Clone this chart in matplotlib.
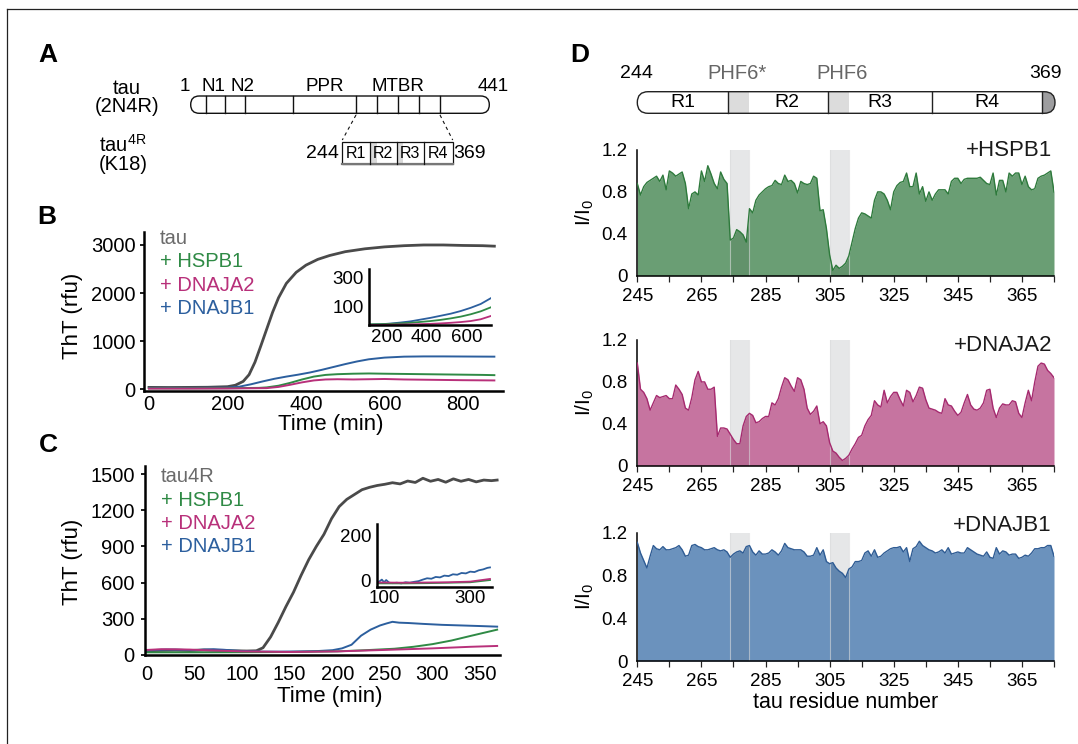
import numpy as np
import matplotlib
matplotlib.use("Agg")
import matplotlib.pyplot as plt
from matplotlib.patches import FancyBboxPatch, Rectangle

plt.rcParams['font.family'] = ['Liberation Sans', 'DejaVu Sans']
plt.rcParams['mathtext.fontset'] = 'custom'
plt.rcParams['mathtext.rm'] = 'Liberation Sans'
plt.rcParams['mathtext.default'] = 'regular'

# ---------------- data ----------------
# Panel B (full-length tau)
tauB_t = [0, 50, 100, 150, 200, 220, 240, 255, 270, 285, 300, 315, 330, 350, 375, 400, 430, 460, 500, 550, 600, 650, 700, 750, 800, 850, 880]
tauB_y = [35, 33, 35, 38, 50, 80, 160, 300, 560, 900, 1250, 1600, 1900, 2200, 2430, 2580, 2700, 2780, 2860, 2920, 2960, 2985, 3000, 3000, 2990, 2985, 2975]
hspb1B_t = [0, 100, 200, 280, 300, 330, 360, 390, 420, 450, 480, 520, 560, 600, 650, 700, 750, 800, 850, 880]
hspb1B_y = [15, 15, 18, 25, 35, 70, 130, 200, 260, 295, 310, 320, 325, 320, 315, 310, 305, 300, 295, 290]
dnaja2B_t = [0, 100, 200, 300, 330, 360, 390, 420, 450, 480, 520, 560, 600, 650, 700, 750, 800, 850, 880]
dnaja2B_y = [10, 10, 12, 20, 45, 90, 140, 180, 200, 205, 200, 205, 210, 200, 195, 190, 185, 182, 180]
dnajb1B_t = [0, 100, 200, 230, 260, 290, 320, 350, 380, 410, 440, 470, 500, 530, 560, 600, 650, 700, 750, 800, 850, 880]
dnajb1B_y = [25, 25, 30, 50, 100, 160, 215, 260, 300, 345, 400, 460, 520, 575, 620, 655, 675, 680, 680, 678, 676, 675]
# Panel B inset
insB_t = [120, 170, 220, 270, 320, 370, 420, 470, 520, 570, 620, 670, 720]
insB_dnajb1 = [-22, -20, -15, -8, 0, 12, 24, 38, 52, 70, 92, 118, 157]
insB_hspb1 = [-20, -19, -17, -14, -10, -4, 2, 10, 20, 32, 48, 68, 95]
insB_dnaja2 = [-24, -24, -23, -22, -21, -19, -17, -14, -10, -5, 2, 14, 36]

# Panel C (tau4R)
tauC_t = [0, 15, 30, 45, 60, 75, 90, 105, 115, 122, 130, 138, 146, 154, 162, 170, 178, 186, 194, 202, 210, 218, 226, 234, 242, 250, 258, 266, 274, 282, 290, 298, 306, 314, 322, 330, 338, 346, 354, 362, 368]
tauC_y = [35, 38, 40, 37, 42, 38, 35, 33, 35, 60, 150, 270, 400, 520, 660, 790, 900, 1000, 1130, 1230, 1290, 1330, 1370, 1390, 1405, 1415, 1428, 1418, 1442, 1430, 1465, 1440, 1455, 1432, 1460, 1440, 1455, 1435, 1450, 1445, 1450]
dnajb1C_t = [0, 10, 20, 30, 40, 50, 60, 70, 80, 90, 100, 120, 140, 160, 180, 195, 205, 215, 225, 235, 245, 252, 258, 265, 275, 290, 310, 330, 350, 368]
dnajb1C_y = [35, 42, 45, 44, 42, 40, 45, 48, 44, 38, 33, 28, 28, 30, 33, 40, 55, 85, 160, 210, 245, 262, 275, 268, 265, 258, 250, 245, 240, 235]
hspb1C_t = [0, 50, 100, 150, 200, 230, 260, 280, 300, 320, 340, 368]
hspb1C_y = [22, 22, 23, 25, 30, 40, 52, 68, 90, 120, 158, 210]
dnaja2C_t = [0, 15, 30, 45, 60, 80, 100, 150, 200, 250, 300, 340, 368]
dnaja2C_y = [42, 48, 47, 45, 40, 35, 30, 25, 30, 42, 55, 68, 75]
# Panel C inset
insC_t = [88, 95, 100, 105, 112, 120, 130, 140, 150, 160, 170, 180, 190, 200, 210, 220, 230, 240, 250, 260, 270, 280, 290, 300, 310, 320, 330, 340, 346]
insC_dnajb1 = [-8, 2, -10, 0, -12, -14, -12, -15, -10, -12, -8, -5, 2, 8, 6, 14, 12, 20, 18, 26, 24, 32, 30, 38, 36, 44, 48, 55, 57]
insC_t2 = [88, 150, 200, 250, 300, 346]
insC_hspb1 = [-15, -15, -14, -12, -10, 0]
insC_dnaja2 = [-11, -12, -11, -10, -7, 5]

# Panel D (I/I0 per residue)
residues = np.arange(245, 376)
d_hspb1 = [0.88, 0.77, 0.85, 0.89, 0.91, 0.93, 0.95, 0.90, 0.96, 0.82,
           1.00, 0.98, 0.95, 0.97, 0.99, 0.88, 0.64, 0.78, 0.80, 0.77,
           1.00, 0.90, 1.05, 0.97, 0.88, 0.83, 0.99, 0.92, 0.88, 0.34,
           0.36, 0.44, 0.42, 0.39, 0.32, 0.64, 0.60, 0.72, 0.77, 0.80,
           0.83, 0.85, 0.86, 0.91, 0.88, 0.87, 0.96, 0.90, 0.91, 0.88,
           0.79, 0.90, 0.88, 0.87, 0.88, 0.95, 0.93, 0.62, 0.63, 0.45,
           0.20, 0.05, 0.10, 0.07, 0.09, 0.12, 0.19, 0.32, 0.45, 0.55,
           0.60, 0.59, 0.57, 0.55, 0.72, 0.80, 0.80, 0.78, 0.72, 0.63,
           0.80, 0.86, 0.89, 0.90, 0.98, 0.85, 0.85, 0.98, 0.78, 0.85,
           0.71, 0.80, 0.72, 0.78, 0.82, 0.82, 0.82, 0.78, 0.90, 0.93,
           0.93, 0.88, 0.92, 0.93, 0.93, 0.93, 0.93, 0.94, 0.91, 0.88,
           0.87, 0.98, 0.77, 0.91, 0.91, 0.80, 0.98, 0.95, 0.98, 0.98,
           0.87, 0.95, 0.85, 0.82, 0.83, 0.93, 0.95, 0.96, 0.98, 1.00,
           0.80]
d_dnaja2 = [0.98, 0.73, 0.70, 0.64, 0.53, 0.60, 0.67, 0.65, 0.66, 0.67,
            0.64, 0.64, 0.77, 0.73, 0.68, 0.55, 0.53, 0.65, 0.82, 0.90,
            0.80, 0.80, 0.73, 0.73, 0.75, 0.28, 0.36, 0.36, 0.35, 0.30,
            0.25, 0.21, 0.21, 0.38, 0.47, 0.50, 0.48, 0.41, 0.42, 0.45,
            0.47, 0.47, 0.60, 0.58, 0.64, 0.75, 0.84, 0.82, 0.76, 0.71,
            0.84, 0.82, 0.73, 0.55, 0.49, 0.52, 0.57, 0.40, 0.42, 0.38,
            0.22, 0.14, 0.12, 0.08, 0.05, 0.07, 0.10, 0.16, 0.21, 0.27,
            0.29, 0.38, 0.44, 0.48, 0.62, 0.58, 0.56, 0.72, 0.60, 0.66,
            0.70, 0.70, 0.63, 0.57, 0.72, 0.70, 0.61, 0.67, 0.75, 0.74,
            0.63, 0.55, 0.54, 0.53, 0.51, 0.50, 0.64, 0.58, 0.57, 0.52,
            0.48, 0.51, 0.60, 0.68, 0.58, 0.54, 0.53, 0.55, 0.60, 0.72,
            0.73, 0.55, 0.46, 0.55, 0.59, 0.58, 0.58, 0.62, 0.61, 0.50,
            0.46, 0.60, 0.72, 0.62, 0.80, 0.95, 0.98, 0.97, 0.91, 0.88,
            0.84]
d_dnajb1 = [1.11, 1.01, 0.94, 0.87, 0.98, 1.08, 1.05, 1.04, 1.07, 1.04,
            1.04, 1.05, 1.06, 1.08, 1.04, 0.98, 0.99, 1.08, 1.09, 1.07,
            1.06, 1.04, 1.04, 1.05, 1.06, 1.04, 1.03, 1.04, 1.02, 0.97,
            1.00, 1.02, 1.03, 1.01, 1.07, 1.08, 1.02, 0.99, 1.03, 1.00,
            1.00, 1.01, 1.04, 1.02, 0.99, 1.03, 1.10, 1.06, 1.05, 1.04,
            1.04, 1.04, 1.02, 0.98, 0.98, 0.99, 1.06, 0.99, 1.04, 0.93,
            0.91, 0.92, 0.87, 0.84, 0.82, 0.78, 0.86, 0.88, 0.93, 0.93,
            0.94, 1.01, 1.03, 0.98, 1.04, 0.97, 0.98, 1.01, 1.03, 1.05,
            1.06, 1.06, 1.07, 1.02, 1.06, 0.93, 1.05, 1.07, 1.12, 1.08,
            1.06, 1.04, 1.03, 1.01, 1.02, 1.04, 1.01, 1.06, 1.00, 1.01,
            1.02, 1.01, 1.01, 1.06, 1.04, 1.02, 1.00, 0.99, 0.98, 1.02,
            0.97, 0.96, 1.06, 1.00, 1.03, 1.02, 0.99, 1.00, 1.00, 0.96,
            0.97, 0.99, 0.98, 1.01, 1.05, 1.05, 1.06, 1.06, 1.08, 1.08,
            0.98]
phf_regions = [(274, 280), (305, 311)]
d_names = ['+HSPB1', '+DNAJA2', '+DNAJB1']

# ---------------- style ----------------
W, H = 1078, 744
C_TAU = '#4a4a4a'
C_TAU_TXT = '#6a6a6a'
C_HSPB1 = '#2f8a45'
C_DNAJA2 = '#b8307a'
C_DNAJB1 = '#2c5f9e'
FILLS = ['#6a9e74', '#c674a0', '#6b92bd']
LINES = ['#2e7a3c', '#a52a6f', '#2f5c94']

fig = plt.figure(figsize=(W / 100, H / 100), dpi=100)


def axpos(l, t, r, b):
    return [l / W, 1 - b / H, (r - l) / W, (b - t) / H]


def style_axes(ax, lw=1.8, fs=14.5, xlen=0, xpad=3.6, ylen=3, ypad=3):
    for s in ['top', 'right']:
        ax.spines[s].set_visible(False)
    for s in ['left', 'bottom']:
        ax.spines[s].set_linewidth(lw)
    ax.tick_params(labelsize=fs, color='#222', width=lw * 0.8)
    ax.tick_params(axis='x', length=xlen, pad=xpad)
    ax.tick_params(axis='y', length=ylen, pad=ypad)
    ax.set_facecolor('none')


# ---------------- Panel B ----------------
axB = fig.add_axes(axpos(144, 232, 503, 391))
axB.plot(tauB_t, tauB_y, color=C_TAU, lw=2.0)
axB.plot(dnajb1B_t, dnajb1B_y, color=C_DNAJB1, lw=1.4)
axB.plot(hspb1B_t, hspb1B_y, color=C_HSPB1, lw=1.4)
axB.plot(dnaja2B_t, dnaja2B_y, color=C_DNAJA2, lw=1.4)
axB.set_xlim(-12.7, 902)
axB.set_ylim(-40, 3270)
axB.set_xticks([0, 200, 400, 600, 800])
axB.set_yticks([0, 1000, 2000, 3000])
style_axes(axB, xpad=3.2)
axB.set_ylabel('ThT (rfu)', fontsize=16, va='center')
axB.yaxis.set_label_coords(-0.20, 0.47)
axB.set_xlabel('Time (min)', fontsize=16, va='center')
axB.xaxis.set_label_coords(0.52, -0.21)

axBi = fig.add_axes(axpos(369.3, 269.3, 490.7, 325.3))
axBi.plot(insB_t, insB_dnajb1, color=C_DNAJB1, lw=1.3)
axBi.plot(insB_t, insB_hspb1, color=C_HSPB1, lw=1.3)
axBi.plot(insB_t, insB_dnaja2, color=C_DNAJA2, lw=1.3)
axBi.set_xlim(113, 720)
axBi.set_ylim(-27, 354)
axBi.set_xticks([200, 400, 600])
axBi.set_yticks([100, 300])
style_axes(axBi, fs=13.5, xlen=0, xpad=2.5, ylen=0, ypad=4)

# ---------------- Panel C ----------------
axC = fig.add_axes(axpos(145, 465.7, 500, 655))
axC.plot(tauC_t, tauC_y, color=C_TAU, lw=2.0)
axC.plot(dnajb1C_t, dnajb1C_y, color=C_DNAJB1, lw=1.4)
axC.plot(hspb1C_t, hspb1C_y, color=C_HSPB1, lw=1.4)
axC.plot(dnaja2C_t, dnaja2C_y, color=C_DNAJA2, lw=1.4)
axC.set_xlim(-2, 371)
axC.set_ylim(0, 1569)
axC.set_xticks([0, 50, 100, 150, 200, 250, 300, 350])
axC.set_yticks([0, 300, 600, 900, 1200, 1500])
style_axes(axC, xpad=7.5, ypad=4.5)
axC.set_ylabel('ThT (rfu)', fontsize=16, va='center')
axC.yaxis.set_label_coords(-0.205, 0.49)
axC.set_xlabel('Time (min)', fontsize=16, va='center')
axC.xaxis.set_label_coords(0.52, -0.22)

axCi = fig.add_axes(axpos(376.7, 524, 491.7, 586.7))
axCi.plot(insC_t, insC_dnajb1, color=C_DNAJB1, lw=1.3)
axCi.plot(insC_t2, insC_hspb1, color=C_HSPB1, lw=1.3)
axCi.plot(insC_t2, insC_dnaja2, color=C_DNAJA2, lw=1.3)
axCi.set_xlim(83, 350)
axCi.set_ylim(-30, 253)
axCi.set_xticks([100, 300])
axCi.set_yticks([0, 200])
style_axes(axCi, fs=13.5, xlen=0, xpad=2.5, ylen=0, ypad=4)

# ---------------- Panel D ----------------
d_series = [d_hspb1, d_dnaja2, d_dnajb1]
d_boxes = [(637.3, 150, 1054, 275.7), (637.3, 340, 1054, 465.7), (637.3, 532.7, 1054, 661)]
d_name_y = [1.0, 0.96, 1.06]
d_ticks = np.arange(245, 376, 10)
d_labels = [str(t) if (t - 245) % 20 == 0 else '' for t in d_ticks]
for i, (vals, box) in enumerate(zip(d_series, d_boxes)):
    ax = fig.add_axes(axpos(*box))
    vals = np.array(vals)
    for (a, b) in phf_regions:
        ax.axvspan(a, b, color='#e6e7e8', lw=0, zorder=0)
    ax.fill_between(residues, 0, vals, color=FILLS[i], lw=0, zorder=1)
    for (a, b) in phf_regions:
        m = (residues >= a) & (residues <= b)
        ax.fill_between(residues, 0, vals, where=m, color='k', alpha=0.07, lw=0, zorder=2)
        ax.axvline(a, color='#d9dadb', lw=0.8, alpha=0.6, zorder=2)
        ax.axvline(b, color='#d9dadb', lw=0.8, alpha=0.6, zorder=2)
    ax.plot(residues, vals, color=LINES[i], lw=1.0, zorder=3)
    ax.set_xlim(245, 375)
    ax.set_ylim(0, 1.2)
    ax.set_xticks(d_ticks)
    ax.set_xticklabels(d_labels)
    ax.set_yticks([0, 0.4, 0.8, 1.2])
    ax.set_yticklabels(['0', '0.4', '0.8', '1.2'])
    style_axes(ax, lw=1.1, fs=13.5, xlen=4, xpad=4.5, ylen=0, ypad=7)
    ax.set_ylabel('I/I$_0$', fontsize=15, va='center')
    ax.yaxis.set_label_coords(-0.125, 0.5)
    ax.text(0.995, d_name_y[i], d_names[i], transform=ax.transAxes,
            ha='right', va='center', fontsize=16, color='#1a1a1a', zorder=5)
    if i == 2:
        ax.set_xlabel('tau residue number', fontsize=15.5, va='center')
        ax.xaxis.set_label_coords(0.5, -0.32)

# ---------------- overlay (schematics, labels) ----------------
ov = fig.add_axes([0, 0, 1, 1])
ov.set_xlim(0, W)
ov.set_ylim(H, 0)
ov.axis('off')
ov.patch.set_visible(False)

# frame lines
ov.plot([7, W], [9.3, 9.3], color='#222', lw=0.9)
ov.plot([7, 7], [9.3, H], color='#222', lw=0.9)

for lab, (x, y) in zip('ABCD', [(48, 55), (46.7, 216.7), (48.3, 445), (580, 55)]):
    ov.text(x, y, lab, fontsize=19, fontweight='bold', ha='center', va='center')

# Panel A schematic
ov.text(126.7, 88, 'tau', fontsize=14.5, ha='center', va='center')
ov.text(126.7, 106, '(2N4R)', fontsize=14.5, ha='center', va='center')
ov.text(123, 145, 'tau$^{4R}$', fontsize=14.5, ha='center', va='center')
ov.text(123, 164, '(K18)', fontsize=14.5, ha='center', va='center')
ov.add_patch(FancyBboxPatch((190.7, 96), 298.6, 17.3, boxstyle='round,pad=0,rounding_size=8.6',
                            fc='white', ec='#111', lw=1.0))
for x in [206, 225, 245, 293.3, 356, 377.3, 398, 418.7, 440]:
    ov.plot([x, x], [96, 113.3], color='#111', lw=1.0)
for txt, x in [('1', 184.5), ('N1', 213.5), ('N2', 242), ('PPR', 325), ('MTBR', 398), ('441', 493)]:
    ov.text(x, 86.7, txt, fontsize=13.5, ha='center', va='center')
ov.add_patch(Rectangle((370, 141.7), 6.7, 22.3, fc='#d9d9d9', lw=0))
ov.add_patch(Rectangle((396.7, 141.7), 6, 22.3, fc='#d9d9d9', lw=0))
ov.add_patch(Rectangle((342.3, 141.7), 110.4, 22.3, fc='none', ec='#111', lw=0.9))
ov.plot([342.3, 452.7], [164, 164], color='#777', lw=1.6)
for x in [370, 396.7, 424]:
    ov.plot([x, x], [141.7, 164], color='#111', lw=0.9)
for txt, x in [('R1', 356), ('R2', 383.3), ('R3', 410.3), ('R4', 438.3)]:
    ov.text(x, 153, txt, fontsize=11.5, ha='center', va='center')
ov.text(322, 153, '244', fontsize=14, ha='center', va='center')
ov.text(469, 153, '369', fontsize=14, ha='center', va='center')
ov.plot([356, 342.3], [115, 140], color='#111', lw=0.8, ls=(0, (3, 3)))
ov.plot([440, 452.7], [115, 140], color='#111', lw=0.8, ls=(0, (3, 3)))

# Panel D schematic
bx0, bx1, by0, by1 = 637.3, 1055, 91.7, 113.3
ov.add_patch(FancyBboxPatch((bx0, by0), bx1 - bx0, by1 - by0, boxstyle='round,pad=0,rounding_size=10.8',
                            fc='white', ec='none', lw=0))
ov.add_patch(FancyBboxPatch((1025, by0), bx1 - 1025, by1 - by0, boxstyle='round,pad=0,rounding_size=10.8',
                            fc='#9d9d9f', ec='none', lw=0))
ov.add_patch(Rectangle((1020, by0), 21.7, by1 - by0, fc='white', lw=0))
ov.add_patch(Rectangle((727.7, by0), 21.3, by1 - by0, fc='#dcdcdc', lw=0))
ov.add_patch(Rectangle((828.3, by0), 20.7, by1 - by0, fc='#dcdcdc', lw=0))
ov.add_patch(FancyBboxPatch((bx0, by0), bx1 - bx0, by1 - by0, boxstyle='round,pad=0,rounding_size=10.8',
                            fc='none', ec='#222', lw=1.0))
for x in [727.7, 828.3, 931.7, 1041.7]:
    ov.plot([x, x], [by0, by1], color='#222', lw=1.0)
for txt, x in [('R1', 683.3), ('R2', 786.7), ('R3', 880), ('R4', 986.7)]:
    ov.text(x, 102.5, txt, fontsize=14, ha='center', va='center')
ov.text(636.7, 73.3, '244', fontsize=14, ha='center', va='center')
ov.text(1045, 73.3, '369', fontsize=14, ha='center', va='center')
ov.text(736.7, 73.3, 'PHF6*', fontsize=14.5, ha='center', va='center', color='#666666')
ov.text(841.7, 73.3, 'PHF6', fontsize=14.5, ha='center', va='center', color='#666666')

# legends for B and C
legB = [('tau', C_TAU_TXT, 238.3), ('+ HSPB1', C_HSPB1, 261.7), ('+ DNAJA2', C_DNAJA2, 285.7), ('+ DNAJB1', C_DNAJB1, 308.3)]
for txt, col, y in legB:
    ov.text(160, y, txt, fontsize=14.5, color=col, ha='left', va='center')
legC = [('tau4R', C_TAU_TXT, 476.7), ('+ HSPB1', C_HSPB1, 500), ('+ DNAJA2', C_DNAJA2, 523.3), ('+ DNAJB1', C_DNAJB1, 546.7)]
for txt, col, y in legC:
    ov.text(160.7, y, txt, fontsize=14.5, color=col, ha='left', va='center')

fig.savefig('out.png', dpi=100)
